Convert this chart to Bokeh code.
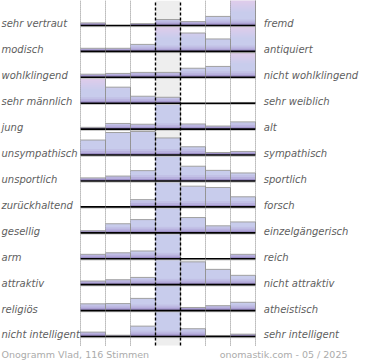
from bokeh.plotting import figure
from bokeh.models import Range1d, ColumnDataSource
from bokeh.embed import file_html
from bokeh.resources import INLINE
from bokeh.core.properties import value

# ---- data -------------------------------------------------------------
left_labels = ["sehr vertraut", "modisch", "wohlklingend", "sehr männlich", " jung",
               "unsympathisch", "unsportlich", "zurückhaltend", "gesellig", "arm",
               "attraktiv", "religiös", "nicht intelligent"]
right_labels = ["fremd", "antiquiert", "nicht wohlklingend", "sehr weiblich", "alt",
                "sympathisch", "sportlich", "forsch", "einzelgängerisch", "reich",
                "nicht attraktiv", "atheistisch", "sehr intelligent"]

# relative bar heights per row (1.0 = full row height), 7 scale steps each
r_vertraut = [0.10, 0.02, 0.07, 0.23, 0.15, 0.35, 1.00]
r_modisch = [0.12, 0.12, 0.27, 1.00, 0.71, 0.48, 1.00]
r_wohlklingend = [0.12, 0.15, 0.19, 0.19, 0.35, 0.42, 0.95]
r_maennlich = [1.00, 0.62, 0.27, 0.23, 0.00, 0.00, 0.03]
r_jung = [0.07, 0.22, 0.19, 1.00, 0.20, 0.12, 0.28]
r_sympathisch = [0.58, 0.87, 0.91, 0.66, 0.32, 0.10, 0.14]
r_sportlich = [0.12, 0.19, 0.40, 1.00, 0.57, 0.41, 0.31]
r_forsch = [0.02, 0.02, 0.28, 1.00, 0.80, 0.75, 0.39]
r_gesellig = [0.08, 0.35, 0.51, 1.00, 0.59, 0.27, 0.42]
r_arm = [0.17, 0.23, 0.30, 1.00, 0.00, 0.00, 0.17]
r_attraktiv = [0.14, 0.19, 0.28, 1.00, 0.88, 0.59, 0.36]
r_religioes = [0.26, 0.27, 0.47, 1.00, 0.12, 0.19, 0.32]
r_intelligent = [0.17, 0.05, 0.40, 1.00, 0.30, 0.04, 0.09]
rows = [r_vertraut, r_modisch, r_wohlklingend, r_maennlich, r_jung, r_sympathisch,
        r_sportlich, r_forsch, r_gesellig, r_arm, r_attraktiv, r_religioes, r_intelligent]
pink_rows = [0, 1, 2, 3]

footer_left = "Onogramm Vlad, 116 Stimmen"
footer_right = "onomastik.com - 05 / 2025"

# ---- figure -----------------------------------------------------------
n_rows = len(rows)
n_bins = 7
px_row = 25.917
y_top = 12.964
p = figure(width=370, height=360, output_backend="svg", toolbar_location=None,
           x_range=Range1d(-3.2, 11.6), y_range=Range1d(-0.926, y_top),
           x_axis_location=None, y_axis_location=None, min_border=0)
p.grid.visible = False
p.outline_line_color = None
p.background_fill_color = "white"
p.border_fill_color = "white"

bottom_lim = -0.35
# centre column background
p.quad(left=[3], right=[4], bottom=[bottom_lim], top=[y_top], fill_color="#eeeeee", line_color=None)

def lerp(c1, c2, t):
    return tuple(int(round(a + (b - a) * t)) for a, b in zip(c1, c2))

blue = (200, 204, 236)
pink = (224, 204, 235)
purple = (156, 142, 198)
mid = (184, 177, 222)

def level_color(k, nlev, pinkish):
    if k == 0:
        c = purple
    elif k == 1:
        c = mid
    elif k == 2:
        c = lerp(mid, blue, 0.6)
    else:
        c = blue
        if pinkish and k >= 6:
            c = lerp(blue, pink, (k - 6) / (nlev - 7))
    return "#%02x%02x%02x" % c

N = 13
q = dict(left=[], right=[], bottom=[], top=[], color=[])
edges_x0, edges_y0, edges_x1, edges_y1 = [], [], [], []
for k in range(N - 1, -1, -1):
    for r, vals in enumerate(rows):
        base = (n_rows - 1) - r
        for i, h in enumerate(vals):
            h = min(h, 1.0)
            if h <= k / N:
                continue
            q["left"].append(i)
            q["right"].append(i + 1)
            q["bottom"].append(base)
            q["top"].append(base + min(h, (k + 1) / N))
            q["color"].append(level_color(k, N, r in pink_rows))
p.quad(left="left", right="right", bottom="bottom", top="top", fill_color="color",
       line_color=None, source=ColumnDataSource(q))

for r, vals in enumerate(rows):
    base = (n_rows - 1) - r
    for i, h in enumerate(vals):
        h = min(h, 1.0)
        if h < 0.03:
            continue
        edges_x0 += [i, i + 1]
        edges_x1 += [i + 1, i + 1]
        edges_y0 += [base + h, base]
        edges_y1 += [base + h, base + h]
p.segment(x0=edges_x0, y0=edges_y0, x1=edges_x1, y1=edges_y1, line_color="#a0a0a0", line_width=1)

# baselines
bases = [(n_rows - 1) - r for r in range(n_rows)]
p.segment(x0=[0] * n_rows, x1=[n_bins] * n_rows, y0=[b - 1.2 / px_row for b in bases],
          y1=[b - 1.2 / px_row for b in bases], line_color="#c4c4c4", line_width=1)
p.segment(x0=[0] * n_rows, x1=[n_bins] * n_rows, y0=bases, y1=bases,
          line_color="black", line_width=1.6)

# vertical guides
dot_x = [0, 1, 2, 5, 6, 7]
p.segment(x0=dot_x, x1=dot_x, y0=[bottom_lim] * len(dot_x), y1=[y_top] * len(dot_x),
          line_color="#8a8a8a", line_width=1, line_dash="1 1")
dash_x = [3, 4]
p.segment(x0=dash_x, x1=dash_x, y0=[bottom_lim] * 2, y1=[y_top] * 2,
          line_color="black", line_width=1.4, line_dash="3 2")

# labels
lab_y = [b + 0.06 for b in bases]
p.text(x=[-3.16] * n_rows, y=lab_y, text=left_labels, text_font=value("DejaVu Sans"),
       text_font_style="italic", text_font_size="10px", text_color="#606060",
       text_baseline="alphabetic", text_align="left")
p.text(x=[7.33] * n_rows, y=lab_y, text=right_labels, text_font=value("DejaVu Sans"),
       text_font_style="italic", text_font_size="10px", text_color="#606060",
       text_baseline="alphabetic", text_align="left")

p.text(x=[-3.16], y=[-0.70], text=[footer_left], text_font=value("DejaVu Sans"),
       text_font_size="9.5px", text_color="#ababab", text_baseline="alphabetic", text_align="left")
p.text(x=[10.68], y=[-0.70], text=[footer_right], text_font=value("DejaVu Sans"),
       text_font_size="9.5px", text_color="#ababab", text_baseline="alphabetic", text_align="right")

open("out.html", "w").write(file_html(p, INLINE))
